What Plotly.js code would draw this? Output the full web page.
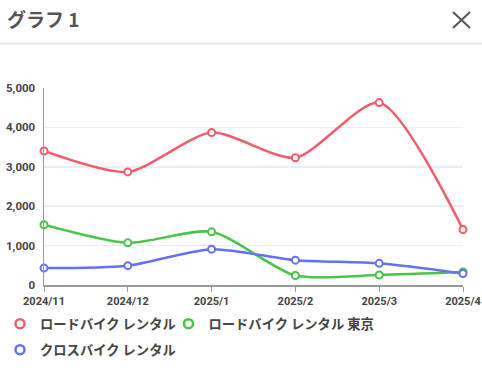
<!DOCTYPE html>
<html><head><meta charset="utf-8">
<script src="https://cdn.plot.ly/plotly-3.0.1.min.js"></script>
<style>html,body{margin:0;padding:0;background:#fff;}#c{width:482px;height:368px;}</style>
</head><body><div id="c"></div>
<script>
const months = ["2024/11","2024/12","2025/1","2025/2","2025/3","2025/4"];
const seriesNames = ["ロードバイク レンタル","ロードバイク レンタル 東京","クロスバイク レンタル"];
const roadBike = [3400, 2870, 3870, 3230, 4630, 1410];
const roadBikeTokyo = [1530, 1070, 1350, 240, 255, 330];
const crossBike = [430, 490, 910, 630, 550, 290];
const yTicks = [0, 1000, 2000, 3000, 4000, 5000];
const yTickLabels = ["0", "1,000", "2,000", "3,000", "4,000", "5,000"];
const colors = ["#f45b6d", "#48c448", "#6470f5"];
const legendIds = ["legend", "legend2", "legend3"];

const values = [roadBike, roadBikeTokyo, crossBike];
const traces = values.map((v, i) => ({
  type: "scatter", mode: "lines+markers", name: seriesNames[i], showlegend: false,
  x: months, y: v,
  line: {color: colors[i], width: 2.5, shape: "spline", smoothing: 0.7},
  marker: {symbol: "circle", size: 7, color: "#fff", line: {color: colors[i], width: 2}},
  cliponaxis: false
}));
// legend entries (marker only, as in the reference)
values.forEach((v, i) => traces.push({
  type: "scatter", mode: "markers", name: seriesNames[i], legend: legendIds[i],
  x: [null], y: [null], showlegend: true,
  marker: {symbol: "circle", size: 9, color: "#fff", line: {color: colors[i], width: 2.5}}
}));

const legFont = {family: "'Noto Sans CJK JP', sans-serif", size: 13.3, color: "#444", weight: "bold"};
const leg = (x, y) => ({orientation: "h", xref: "container", yref: "container", x: x, xanchor: "left",
                        y: y, yanchor: "middle", font: legFont, bgcolor: "rgba(0,0,0,0)"});
const layout = {
  width: 482, height: 368,
  margin: {l: 44, r: 19, t: 88, b: 83},
  paper_bgcolor: "#fff", plot_bgcolor: "#fff",
  font: {family: "Roboto, 'Noto Sans CJK JP', sans-serif", color: "#444"},
  title: {text: "<b>グラフ 1</b>", x: 0, xref: "container", xanchor: "left", y: 0.9457, yref: "container", yanchor: "middle",
          pad: {l: 7, t: 0}, font: {family: "'Noto Sans CJK JP', sans-serif", size: 19, color: "#555"}},
  showlegend: true,
  legend: leg(-0.005, 0.1196),
  legend2: leg(0.3495, 0.1196),
  legend3: leg(-0.005, 0.0489),
  xaxis: {type: "category", range: [0, 5], showgrid: false, showline: true, linecolor: "#999", linewidth: 1.5,
          ticks: "outside", ticklen: 5, tickcolor: "#999", tickwidth: 1,
          tickfont: {family: "Roboto, sans-serif", size: 11, color: "#444", weight: "bold"}, fixedrange: true},
  yaxis: {range: [0, 5000], tickvals: yTicks, ticktext: yTickLabels, showgrid: true, gridcolor: "#e9edf5", gridwidth: 1.5,
          showline: true, linecolor: "#999", linewidth: 1.5, zeroline: false, ticks: "",
          tickfont: {family: "Roboto, sans-serif", size: 11.5, color: "#444", weight: "bold"}, ticklabelstandoff: 5},
  shapes: [
    {type: "line", xref: "paper", yref: "paper", x0: -0.106, x1: 1.05, y0: 1.226, y1: 1.226,
     line: {color: "#e8e8e8", width: 2}},
    {type: "line", xref: "paper", yref: "paper", x0: 0.976, x1: 1.0167, y0: 1.386, y1: 1.3046,
     line: {color: "#555", width: 2}},
    {type: "line", xref: "paper", yref: "paper", x0: 0.976, x1: 1.0167, y0: 1.3046, y1: 1.386,
     line: {color: "#555", width: 2}}
  ]
};
Plotly.newPlot("c", traces, layout, {displayModeBar: false, staticPlot: true});
</script></body></html>
